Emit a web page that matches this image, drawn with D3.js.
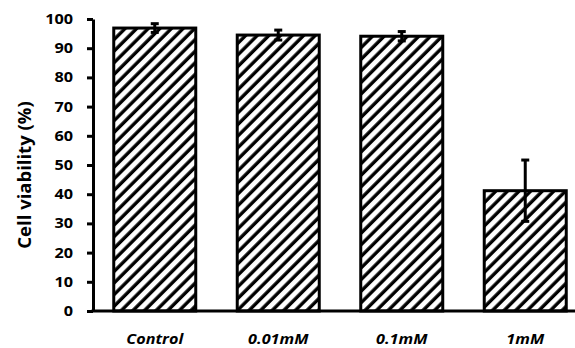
<!DOCTYPE html>
<html>
<head>
<meta charset="utf-8">
<script src="https://cdn.jsdelivr.net/npm/d3@7"></script>
<style>
  html, body { margin: 0; padding: 0; background: #fff; }
  svg { display: block; }
</style>
</head>
<body>
<svg id="chart" width="575" height="348"></svg>
<script>
// Cell viability by treatment concentration (mean ± error)
const categories = ["Control", "0.01mM", "0.1mM", "1mM"];
const viability = [96.9, 94.5, 94.1, 41.2];
const errors = [1.5, 1.7, 1.6, 10.5];
const yTicks = [0, 10, 20, 30, 40, 50, 60, 70, 80, 90, 100];
const yTitle = "Cell viability (%)";

const svg = d3.select("#chart");
const plotLeft = 93, plotRight = 587, plotTop = 19, plotBottom = 311;

const x = d3.scaleBand().domain(categories).range([plotLeft, plotRight])
  .paddingInner(0.336).paddingOuter(0.168);
const y = d3.scaleLinear().domain([0, 100]).range([plotBottom, plotTop]);

// diagonal hatch fill
const defs = svg.append("defs");
const pat = defs.append("pattern")
  .attr("id", "hatch")
  .attr("patternUnits", "userSpaceOnUse")
  .attr("width", 8.2).attr("height", 8.2)
  .attr("patternTransform", "rotate(45)");
pat.append("rect").attr("width", 8.2).attr("height", 8.2).attr("fill", "#fff");
pat.append("line")
  .attr("x1", 2).attr("y1", 0).attr("x2", 2).attr("y2", 8.2)
  .attr("stroke", "#000").attr("stroke-width", 3.4);

const font = "'Open Sans', 'DejaVu Sans', sans-serif";

// bars
svg.append("g").selectAll("rect")
  .data(categories)
  .join("rect")
  .attr("x", d => x(d))
  .attr("y", (d, i) => y(viability[i]))
  .attr("width", x.bandwidth())
  .attr("height", (d, i) => y(0) - y(viability[i]))
  .attr("fill", "url(#hatch)")
  .attr("stroke", "#000")
  .attr("stroke-width", 3);

// error bars
const eb = svg.append("g").selectAll("g")
  .data(categories)
  .join("g")
  .attr("transform", d => `translate(${x(d) + x.bandwidth() / 2},0)`);
eb.append("line")
  .attr("y1", (d, i) => y(viability[i] + errors[i]))
  .attr("y2", (d, i) => y(viability[i] - errors[i]))
  .attr("stroke", "#000").attr("stroke-width", 3);
eb.append("line")
  .attr("x1", -4).attr("x2", 4)
  .attr("y1", (d, i) => y(viability[i] + errors[i]))
  .attr("y2", (d, i) => y(viability[i] + errors[i]))
  .attr("stroke", "#000").attr("stroke-width", 3);
eb.append("line")
  .attr("x1", -4).attr("x2", 4)
  .attr("y1", (d, i) => y(viability[i] - errors[i]))
  .attr("y2", (d, i) => y(viability[i] - errors[i]))
  .attr("stroke", "#000").attr("stroke-width", 3);

// y axis
const tickStretch = 1.16;
const yAxis = svg.append("g")
  .attr("transform", `translate(${plotLeft},0)`)
  .call(d3.axisLeft(y).tickValues(yTicks).tickSize(6).tickPadding(14).tickSizeOuter(0));
yAxis.select(".domain").attr("stroke", "#000").attr("stroke-width", 3);
yAxis.selectAll(".tick line").attr("stroke", "#000").attr("stroke-width", 3);
yAxis.selectAll(".tick text")
  .attr("x", -20 / tickStretch)
  .attr("transform", `scale(${tickStretch},1)`)
  .attr("font-family", font).attr("font-weight", 700)
  .attr("font-size", 14).attr("fill", "#000");

// x axis
const labelStretch = 1.08;
const xAxis = svg.append("g")
  .attr("transform", `translate(0,${plotBottom})`)
  .call(d3.axisBottom(x).tickSize(0));
xAxis.select(".domain").attr("stroke", "#000").attr("stroke-width", 3)
  .attr("d", `M${plotLeft - 1.5},0H575`);
xAxis.selectAll(".tick text")
  .attr("y", 33).attr("dy", 0)
  .attr("transform", `scale(${labelStretch},1)`)
  .attr("font-family", font).attr("font-weight", 700).attr("font-style", "italic")
  .attr("font-size", 15).attr("fill", "#000");

// y title
svg.append("text")
  .attr("transform", `translate(31,${(plotTop + plotBottom) / 2 + 10}) rotate(-90)`)
  .attr("text-anchor", "middle")
  .attr("font-family", font).attr("font-weight", 700)
  .attr("font-size", 18.5).attr("fill", "#000")
  .text(yTitle);
</script>
</body>
</html>
